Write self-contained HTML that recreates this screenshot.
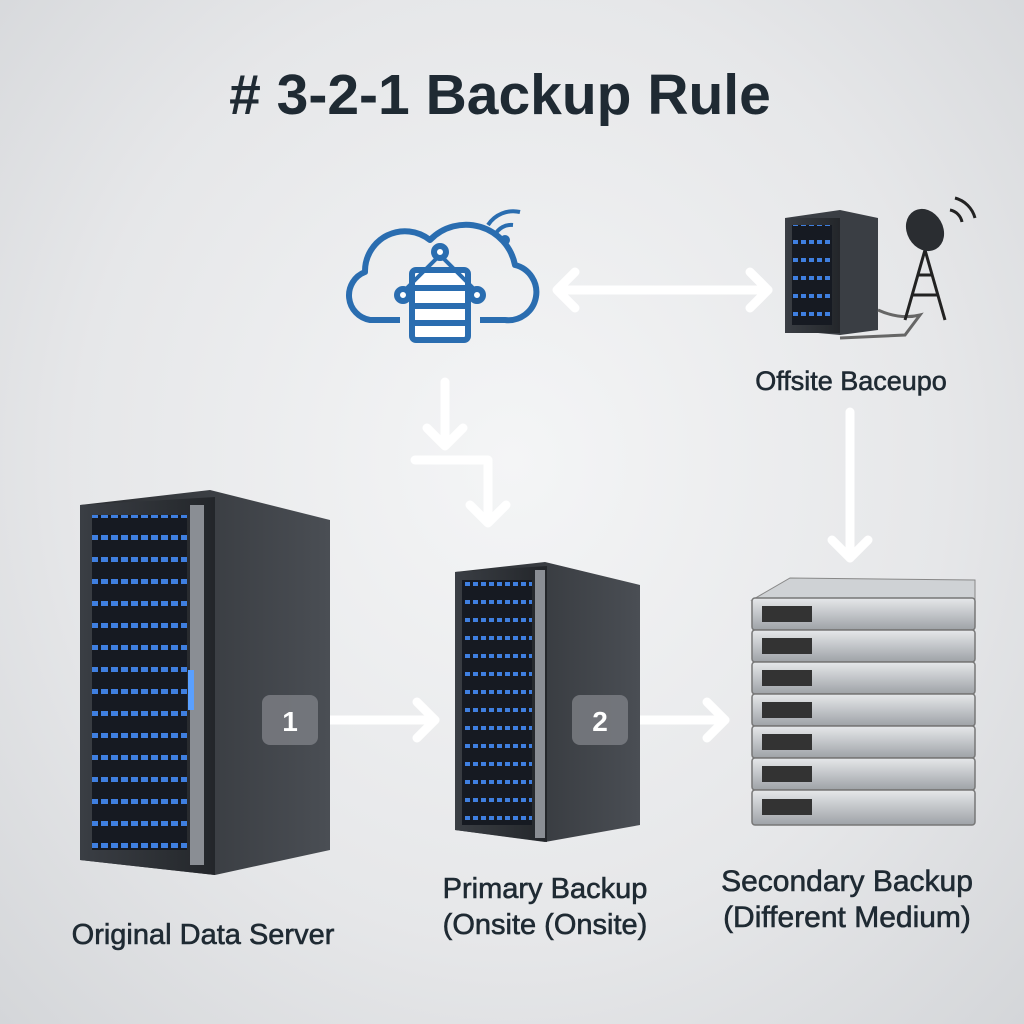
<!DOCTYPE html>
<html><head><meta charset="utf-8"><style>
html,body{margin:0;padding:0}
body{width:1024px;height:1024px;overflow:hidden;background:radial-gradient(ellipse at 50% 45%,#f4f5f6 0%,#e6e7e9 60%,#d4d6d9 100%);font-family:"Liberation Sans",sans-serif}
svg{position:absolute;left:0;top:0}
.lbl{fill:#1f2a33;stroke:#1f2a33;stroke-width:0.6}
</style></head><body>
<svg width="1024" height="1024" viewBox="0 0 1024 1024">
<defs>
<linearGradient id="side" x1="0" x2="1"><stop offset="0" stop-color="#2a2d31"/><stop offset="1" stop-color="#4a4e54"/></linearGradient>
<linearGradient id="front" x1="0" x2="1"><stop offset="0" stop-color="#3a3e44"/><stop offset="1" stop-color="#23262a"/></linearGradient>
<linearGradient id="disk" x1="0" y1="0" x2="0" y2="1"><stop offset="0" stop-color="#e6e8ea"/><stop offset="1" stop-color="#9ea2a7"/></linearGradient>
<pattern id="rack" width="10" height="22" patternUnits="userSpaceOnUse"><rect width="10" height="22" fill="#161a22"/><rect x="1" y="7" width="7" height="5" fill="#3f7fe0"/></pattern>
<pattern id="rack2" width="8" height="18" patternUnits="userSpaceOnUse"><rect width="8" height="18" fill="#161a22"/><rect x="1" y="6" width="5" height="4" fill="#3f7fe0"/></pattern>
</defs>
<text x="500" y="114" text-anchor="middle" font-size="57" font-weight="bold" fill="#1f2a33">#&#160;3-2-1 Backup Rule</text>

<!-- cloud -->
<g fill="none" stroke="#2a6db0" stroke-width="6" stroke-linejoin="round">
<path d="M400,320 L370,320 A25,25 0 0 1 365,272 A40,40 0 0 1 430,240 A50,50 0 0 1 515,265 A28,28 0 0 1 505,320 L480,320"/>
<rect x="412" y="270" width="56" height="70" rx="4" fill="#fff"/>
<line x1="412" y1="288" x2="468" y2="288"/><line x1="412" y1="306" x2="468" y2="306"/><line x1="412" y1="323" x2="468" y2="323"/>
<path d="M405,290 L440,255 L475,290" stroke-width="4"/>
<circle cx="440" cy="252" r="6" fill="#fff"/><circle cx="403" cy="295" r="6" fill="#fff"/><circle cx="477" cy="295" r="6" fill="#fff"/>
<path d="M495,235 A18,18 0 0 1 513,225 M488,225 A30,30 0 0 1 520,212" stroke-width="4"/>
</g>
<circle cx="505" cy="240" r="5" fill="#2a6db0"/>

<!-- arrows -->
<g stroke="#fff" stroke-width="9" fill="none" stroke-linecap="round" stroke-linejoin="round">
<line x1="560" y1="290" x2="768" y2="290"/>
<path d="M575,272 L557,290 L575,308 M750,272 L768,290 L750,308"/>
<path d="M445,382 L445,445"/><path d="M427,428 L445,446 L463,428"/>
<path d="M415,460 L488,460 L488,522"/><path d="M470,505 L488,523 L506,505"/>
<line x1="850" y1="412" x2="850" y2="558"/><path d="M832,540 L850,558 L868,540"/>
<line x1="322" y1="720" x2="435" y2="720"/><path d="M417,702 L435,720 L417,738"/>
<line x1="632" y1="720" x2="725" y2="720"/><path d="M707,702 L725,720 L707,738"/>
</g>

<!-- offsite server -->
<polygon points="785,218 840,210 878,218 878,330 840,335 785,330" fill="#3a3e44"/>
<rect x="785" y="218" width="55" height="115" fill="url(#front)"/>
<rect x="792" y="225" width="40" height="100" fill="url(#rack2)"/>
<path d="M878,310 Q900,320 920,315 L905,335 L840,338" fill="none" stroke="#666" stroke-width="3"/>
<g stroke="#222" stroke-width="3" fill="none"><path d="M905,320 L925,250 L945,320 M912,295 L938,295 M918,275 L932,275"/></g>
<ellipse cx="925" cy="230" rx="18" ry="22" fill="#2a2d31" transform="rotate(-30 925 230)"/>
<path d="M950,210 A15,15 0 0 1 962,222 M955,198 A28,28 0 0 1 975,218" stroke="#222" stroke-width="3" fill="none"/>
<text x="851" y="390" text-anchor="middle" font-size="27" class="lbl">Offsite Baceupo</text>

<!-- original server -->
<polygon points="80,505 210,490 330,520 330,850 215,875 80,860" fill="url(#side)"/>
<polygon points="80,505 215,497 215,875 80,860" fill="url(#front)"/>
<rect x="92" y="515" width="95" height="335" fill="url(#rack)"/>
<rect x="190" y="505" width="14" height="360" fill="#8a8e94"/>
<rect x="188" y="670" width="6" height="40" fill="#5aa0ff"/>
<text x="203" y="944" text-anchor="middle" font-size="29" class="lbl">Original Data Server</text>
<rect x="262" y="695" width="56" height="50" rx="8" fill="#7a7d82" opacity=".85"/>
<text x="290" y="731" text-anchor="middle" font-size="28" font-weight="bold" fill="#fff">1</text>

<!-- primary server -->
<polygon points="455,572 545,562 640,585 640,825 545,842 455,830" fill="url(#side)"/>
<polygon points="455,572 547,566 547,842 455,830" fill="url(#front)"/>
<rect x="462" y="580" width="70" height="245" fill="url(#rack2)"/>
<rect x="535" y="570" width="10" height="268" fill="#8a8e94"/>
<rect x="572" y="695" width="56" height="50" rx="8" fill="#7a7d82" opacity=".85"/>
<text x="600" y="731" text-anchor="middle" font-size="28" font-weight="bold" fill="#fff">2</text>
<text x="545" y="898" text-anchor="middle" font-size="29" class="lbl">Primary Backup</text>
<text x="545" y="934" text-anchor="middle" font-size="29" class="lbl">(Onsite (Onsite)</text>

<!-- storage stack -->
<polygon points="752,600 790,578 975,580 975,600" fill="#cfd2d5" stroke="#888"/>
<g stroke="#777" stroke-width="1.5">
<rect x="752" y="598" width="223" height="32" rx="3" fill="url(#disk)"/>
<rect x="752" y="630" width="223" height="32" rx="3" fill="url(#disk)"/>
<rect x="752" y="662" width="223" height="32" rx="3" fill="url(#disk)"/>
<rect x="752" y="694" width="223" height="32" rx="3" fill="url(#disk)"/>
<rect x="752" y="726" width="223" height="32" rx="3" fill="url(#disk)"/>
<rect x="752" y="758" width="223" height="32" rx="3" fill="url(#disk)"/>
<rect x="752" y="790" width="223" height="35" rx="3" fill="url(#disk)"/>
</g>
<g fill="#333">
<rect x="762" y="606" width="50" height="16"/><rect x="762" y="638" width="50" height="16"/><rect x="762" y="670" width="50" height="16"/><rect x="762" y="702" width="50" height="16"/><rect x="762" y="734" width="50" height="16"/><rect x="762" y="766" width="50" height="16"/><rect x="762" y="799" width="50" height="16"/>
</g>
<text x="847" y="891" text-anchor="middle" font-size="30" class="lbl">Secondary Backup</text>
<text x="847" y="927" text-anchor="middle" font-size="30" class="lbl">(Different Medium)</text>
</svg>
</body></html>
